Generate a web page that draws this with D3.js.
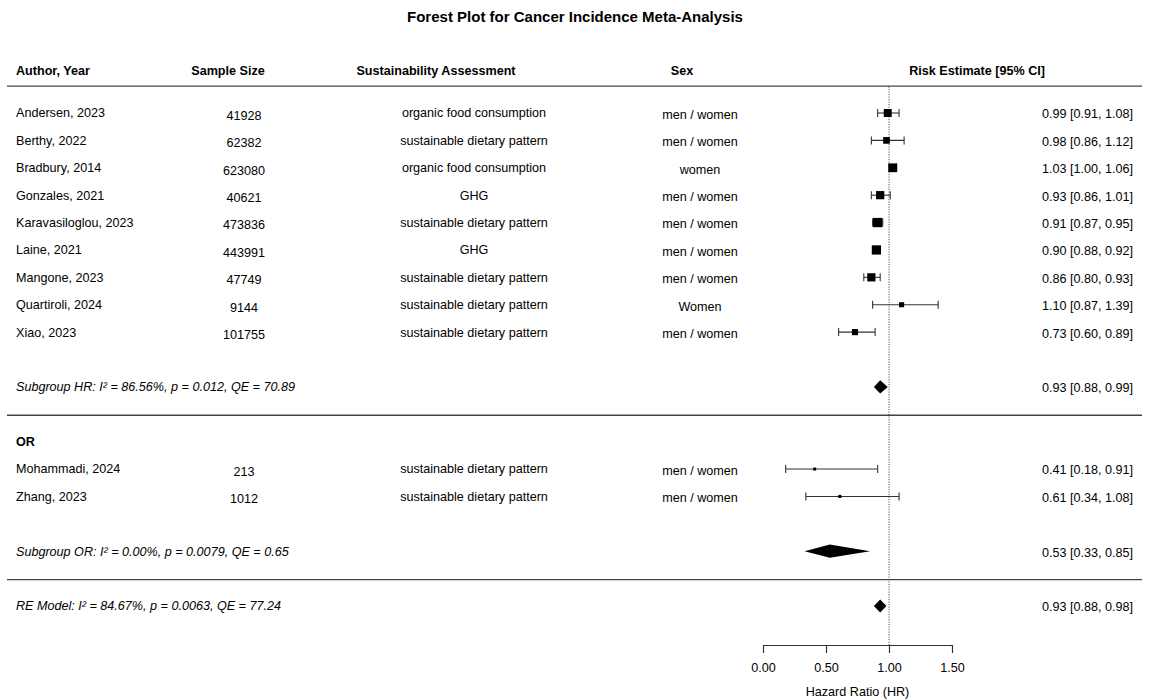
<!DOCTYPE html>
<html>
<head>
<meta charset="utf-8">
<script src="https://cdn.jsdelivr.net/npm/d3@7"></script>
<style>
  html, body { margin: 0; padding: 0; background: #fff; }
  svg { display: block; font-family: "Liberation Sans", Arial, Helvetica, sans-serif; }
</style>
</head>
<body>
<svg id="chart" width="1150" height="699"></svg>
<script>
// ---------------- DATA ----------------
const studies = ["Andersen, 2023", "Berthy, 2022", "Bradbury, 2014", "Gonzales, 2021",
  "Karavasiloglou, 2023", "Laine, 2021", "Mangone, 2023", "Quartiroli, 2024", "Xiao, 2023",
  "Mohammadi, 2024", "Zhang, 2023"];
const groups = ["HR", "HR", "HR", "HR", "HR", "HR", "HR", "HR", "HR", "OR", "OR"];
const sampleSizes = [41928, 62382, 623080, 40621, 473836, 443991, 47749, 9144, 101755, 213, 1012];
const assessments = ["organic food consumption", "sustainable dietary pattern", "organic food consumption",
  "GHG", "sustainable dietary pattern", "GHG", "sustainable dietary pattern", "sustainable dietary pattern",
  "sustainable dietary pattern", "sustainable dietary pattern", "sustainable dietary pattern"];
const sexes = ["men / women", "men / women", "women", "men / women", "men / women", "men / women",
  "men / women", "Women", "men / women", "men / women", "men / women"];
const estimates = [0.99, 0.98, 1.03, 0.93, 0.91, 0.90, 0.86, 1.10, 0.73, 0.41, 0.61];
const ciLower   = [0.91, 0.86, 1.00, 0.86, 0.87, 0.88, 0.80, 0.87, 0.60, 0.18, 0.34];
const ciUpper   = [1.08, 1.12, 1.06, 1.01, 0.95, 0.92, 0.93, 1.39, 0.89, 0.91, 1.08];
const weights   = [10.2, 7.7, 11.8, 10.7, 12.8, 12.7, 10.7, 4.6, 6.7, 0.6, 0.7];

const groupNames = ["HR", "OR"];
const subgroupLabels = ["Subgroup HR: I\u00B2 = 86.56%, p = 0.012, QE = 70.89",
  "Subgroup OR: I\u00B2 = 0.00%, p = 0.0079, QE = 0.65"];
const subgroupEst = [0.93, 0.53];
const subgroupLower = [0.88, 0.33];
const subgroupUpper = [0.99, 0.85];

const overallLabel = "RE Model: I\u00B2 = 84.67%, p = 0.0063, QE = 77.24";
const overallEst = [0.93];
const overallLower = [0.88];
const overallUpper = [0.98];

const headers = ["Author, Year", "Sample Size", "Sustainability Assessment", "Sex", "Risk Estimate [95% CI]"];
const axisTicks = [0, 0.5, 1.0, 1.5];
const refValue = 1.0;
const axisTitle = "Hazard Ratio (HR)";
const title = "Forest Plot for Cancer Incidence Meta-Analysis";

// ---------------- LAYOUT ----------------
const svg = d3.select("#chart");
const FS = 12.6;
const fmt = d3.format(".2f");

const x = d3.scaleLinear().domain([0, 1.5]).range([763, 952]);
const y = d3.scaleLinear().domain([0, 18]).range([113, 606]);
const sizeScale = d3.scaleLinear().domain(d3.extent(weights)).range([3, 9.3]);

const col = { author: 16, sample: 244, assess: 474, sex: 700, right: 1133 };
const hdrX = { author: 16, sample: 228, assess: 436, sex: 682, right: 1045 };
const lineX0 = 7, lineX1 = 1142;
const axisY = 645;

// Build row layout
const rows = [];
const sumRows = [];
const sepRows = [];
const labelRows = [];
let r = 0;
groupNames.forEach((g, gi) => {
  if (gi > 0) {
    labelRows.push({ row: r, text: g });
    r += 1;
  }
  studies.forEach((s, i) => {
    if (groups[i] === g) { rows.push({ i, row: r }); r += 1; }
  });
  r += 1;
  sumRows.push({ row: r, label: subgroupLabels[gi], est: subgroupEst[gi], lo: subgroupLower[gi], hi: subgroupUpper[gi] });
  r += 1;
  sepRows.push(r);
  r += 1;
});
sumRows.push({ row: r, label: overallLabel, est: overallEst[0], lo: overallLower[0], hi: overallUpper[0] });

const base = v => y(v) + 4.4;

// Title
svg.append("text").attr("x", 575).attr("y", 22).attr("text-anchor", "middle")
  .attr("font-size", 15).attr("font-weight", "bold").text(title);

// Headers
const hY = y(-1) - 10.2;
const hdr = svg.append("g").attr("font-weight", "bold").attr("font-size", FS);
hdr.append("text").attr("x", hdrX.author).attr("y", hY).text(headers[0]);
hdr.append("text").attr("x", hdrX.sample).attr("y", hY).attr("text-anchor", "middle").text(headers[1]);
hdr.append("text").attr("x", hdrX.assess).attr("y", hY).attr("text-anchor", "middle").text(headers[2]);
hdr.append("text").attr("x", hdrX.sex).attr("y", hY).attr("text-anchor", "middle").text(headers[3]);
hdr.append("text").attr("x", hdrX.right).attr("y", hY).attr("text-anchor", "end").text(headers[4]);

// Separator lines
const lineYs = [y(-1) + 0.5].concat(sepRows.map(v => y(v) + 1));
svg.selectAll("line.sep").data(lineYs).enter().append("line")
  .attr("x1", lineX0).attr("x2", lineX1).attr("y1", d => d).attr("y2", d => d)
  .attr("stroke", "#444").attr("stroke-width", 1.4);

// Reference dotted line
svg.append("line").attr("x1", x(refValue)).attr("x2", x(refValue))
  .attr("y1", y(-1) + 1).attr("y2", axisY)
  .attr("stroke", "#333").attr("stroke-width", 1).attr("stroke-dasharray", "1,1.5");

// Study rows text
const tg = svg.append("g").attr("font-size", FS).attr("fill", "#000");
rows.forEach(d => {
  const i = d.i, yy = base(d.row);
  tg.append("text").attr("x", col.author).attr("y", yy).text(studies[i]);
  tg.append("text").attr("x", col.sample).attr("y", yy + 2.5).attr("text-anchor", "middle").text(sampleSizes[i]);
  tg.append("text").attr("x", col.assess).attr("y", yy).attr("text-anchor", "middle").text(assessments[i]);
  tg.append("text").attr("x", col.sex).attr("y", yy + 1.5).attr("text-anchor", "middle").text(sexes[i]);
  tg.append("text").attr("x", col.right).attr("y", yy + 1).attr("text-anchor", "end")
    .text(`${fmt(estimates[i])} [${fmt(ciLower[i])}, ${fmt(ciUpper[i])}]`);
});

// Group labels
labelRows.forEach(d => {
  tg.append("text").attr("x", col.author).attr("y", base(d.row)).attr("font-weight", "bold").text(d.text);
});

// CI whiskers
const cg = svg.append("g").attr("stroke", "#333").attr("stroke-width", 1.1);
rows.forEach(d => {
  const i = d.i, yy = y(d.row);
  cg.append("line").attr("x1", x(ciLower[i])).attr("x2", x(ciUpper[i])).attr("y1", yy).attr("y2", yy);
  [ciLower[i], ciUpper[i]].forEach(v => {
    cg.append("line").attr("x1", x(v)).attr("x2", x(v)).attr("y1", yy - 4).attr("y2", yy + 4);
  });
});

// Squares
svg.append("g").selectAll("rect").data(rows).enter().append("rect")
  .attr("x", d => x(estimates[d.i]) - sizeScale(weights[d.i]) / 2)
  .attr("y", d => y(d.row) - sizeScale(weights[d.i]) / 2)
  .attr("width", d => sizeScale(weights[d.i]))
  .attr("height", d => sizeScale(weights[d.i]))
  .attr("fill", "#000");

// Summary rows
sumRows.forEach(d => {
  const yy = y(d.row);
  tg.append("text").attr("x", col.author).attr("y", base(d.row)).attr("font-style", "italic").text(d.label);
  tg.append("text").attr("x", col.right).attr("y", base(d.row) + 1).attr("text-anchor", "end")
    .text(`${fmt(d.est)} [${fmt(d.lo)}, ${fmt(d.hi)}]`);
  const h = 6.6;
  svg.append("path")
    .attr("d", `M${x(d.lo)},${yy} L${x(d.est)},${yy - h} L${x(d.hi)},${yy} L${x(d.est)},${yy + h} Z`)
    .attr("fill", "#000");
});

// Axis
const axis = d3.axisBottom(x).tickValues(axisTicks).tickFormat(fmt).tickSize(8).tickSizeOuter(0).tickPadding(10);
const ag = svg.append("g").attr("transform", `translate(0,${axisY})`).call(axis);
ag.select(".domain").attr("stroke", "#333").attr("stroke-width", 1.2);
ag.selectAll(".tick line").attr("stroke", "#333").attr("stroke-width", 1.2);
ag.selectAll(".tick text").attr("font-size", FS).attr("font-family", "Liberation Sans, Arial, sans-serif").attr("fill", "#000");

svg.append("text").attr("x", (x(0) + x(1.5)) / 2).attr("y", 696).attr("text-anchor", "middle")
  .attr("font-size", FS).text(axisTitle);
</script>
</body>
</html>
